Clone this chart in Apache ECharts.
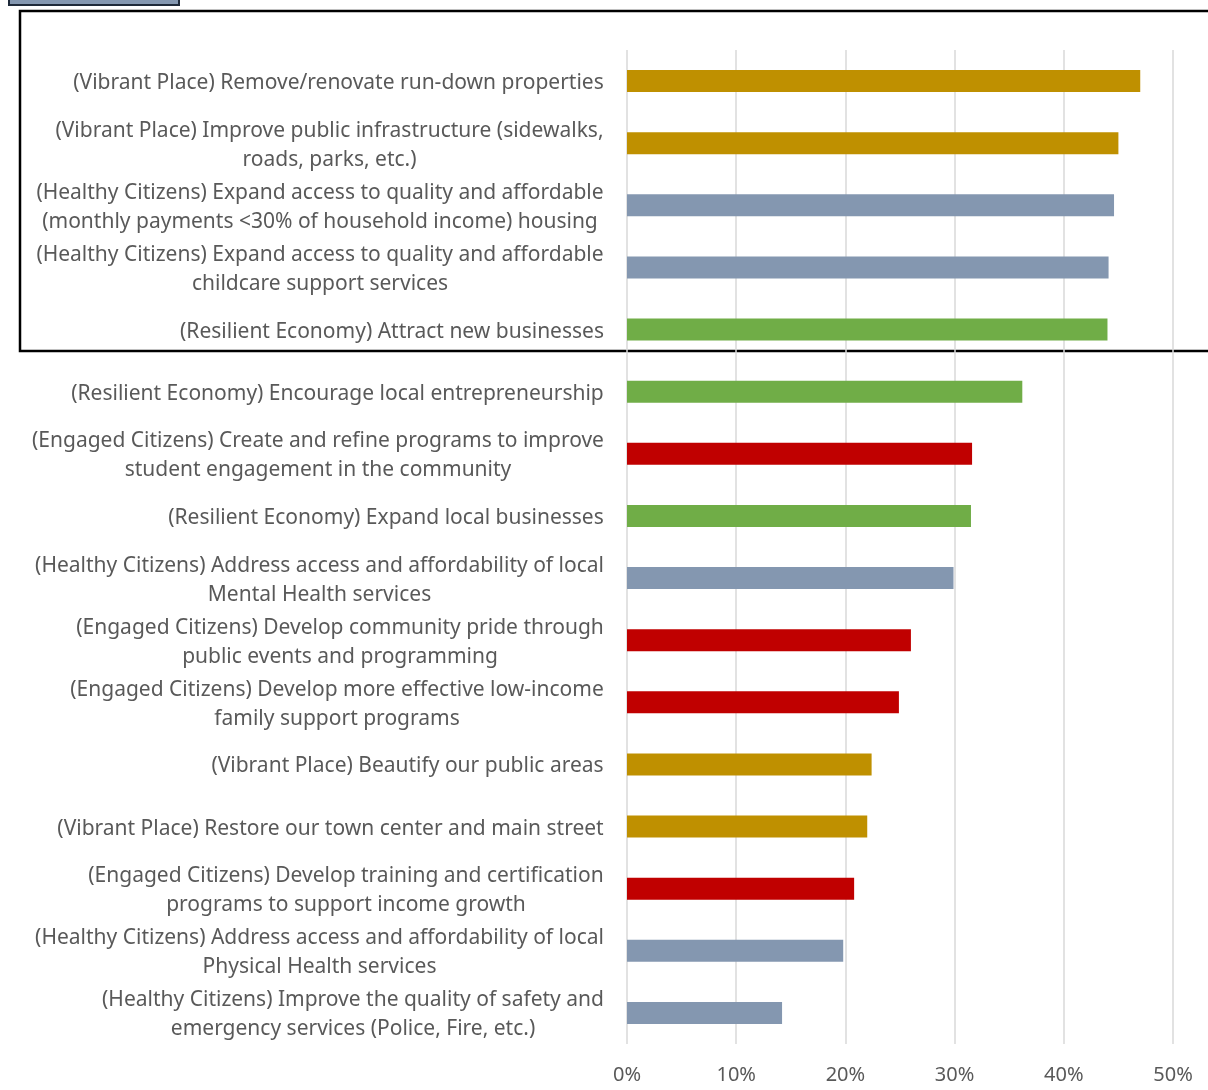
<!DOCTYPE html>
<html>
<head>
<meta charset="utf-8">
<script src="https://cdn.jsdelivr.net/npm/echarts@6/dist/echarts.min.js"></script>
<style>
  html, body { margin: 0; padding: 0; background: #fff; }
  #chart { width: 1208px; height: 1090px; }
</style>
</head>
<body>
<div id="chart"></div>
<script>
// categories, top to bottom, with the line breaks seen in the picture
const categories = [
  '(Vibrant Place) Remove/renovate run-down properties',
  '(Vibrant Place) Improve public infrastructure (sidewalks,\nroads, parks, etc.)',
  '(Healthy Citizens) Expand access to quality and affordable\n(monthly payments <30% of household income) housing',
  '(Healthy Citizens) Expand access to quality and affordable\nchildcare support services',
  '(Resilient Economy) Attract new businesses',
  '(Resilient Economy) Encourage local entrepreneurship',
  '(Engaged Citizens) Create and refine programs to improve\nstudent engagement in the community',
  '(Resilient Economy) Expand local businesses',
  '(Healthy Citizens) Address access and affordability of local\nMental Health services',
  '(Engaged Citizens) Develop community pride through\npublic events and programming',
  '(Engaged Citizens) Develop more effective low-income\nfamily support programs',
  '(Vibrant Place) Beautify our public areas',
  '(Vibrant Place) Restore our town center and main street',
  '(Engaged Citizens) Develop training and certification\nprograms to support income growth',
  '(Healthy Citizens) Address access and affordability of local\nPhysical Health services',
  '(Healthy Citizens) Improve the quality of safety and\nemergency services (Police, Fire, etc.)'
];
const values = [47.0, 45.0, 44.6, 44.1, 44.0, 36.2, 31.6, 31.5, 29.9, 26.0, 24.9, 22.4, 22.0, 20.8, 19.8, 14.2];
const groups = ['place', 'place', 'health', 'health', 'economy', 'economy', 'engaged', 'economy',
                'health', 'engaged', 'engaged', 'place', 'place', 'engaged', 'health', 'health'];
const groupColors = { place: '#bf9000', health: '#8497b0', economy: '#70ad47', engaged: '#c00000' };

const labelFamily = 'Noto Sans';
const labelSize = 21;
const ctx = document.createElement('canvas').getContext('2d');
ctx.font = labelSize + 'px "' + labelFamily + '"';
// each label block centres its lines inside its own widest line (Excel style)
const rich = {};
categories.forEach((c, i) => {
  const w = Math.max(...c.split('\n').map(s => ctx.measureText(s).width));
  rich['l' + i] = { width: Math.ceil(w), align: 'center', fontSize: labelSize, fontFamily: labelFamily, color: '#595959', lineHeight: 29 };
});

const chart = echarts.init(document.getElementById('chart'));
chart.setOption({
  animation: false,
  grid: { left: 627, right: 35, top: 50, bottom: 46 },
  xAxis: {
    type: 'value', min: 0, max: 50, interval: 10,
    axisLine: { show: false }, axisTick: { show: false },
    splitLine: { lineStyle: { color: '#d9d9d9', width: 1.5 } },
    axisLabel: { formatter: v => v + '%', color: '#595959', fontSize: 20, fontFamily: labelFamily, margin: 21 }
  },
  yAxis: {
    type: 'category', inverse: true, data: categories,
    axisLine: { show: false }, axisTick: { show: false },
    axisLabel: {
      margin: 23,
      padding: [4, 0, 0, 0],
      formatter: (v, i) => v.split('\n').map(s => '{l' + i + '|' + s + '}').join('\n'),
      rich: rich
    }
  },
  series: [{
    type: 'bar', barWidth: 22,
    data: values.map((v, i) => ({ value: v, itemStyle: { color: groupColors[groups[i]] } }))
  }],
  graphic: [
    { type: 'rect', shape: { x: 20, y: 11, width: 1200, height: 340 },
      style: { fill: null, stroke: '#000', lineWidth: 2.5 }, z: -1 },
    { type: 'rect', shape: { x: 9, y: -10, width: 170, height: 15 },
      style: { fill: '#8497b0', stroke: '#1f2a3a', lineWidth: 2 } }
  ]
});
</script>
</body>
</html>
